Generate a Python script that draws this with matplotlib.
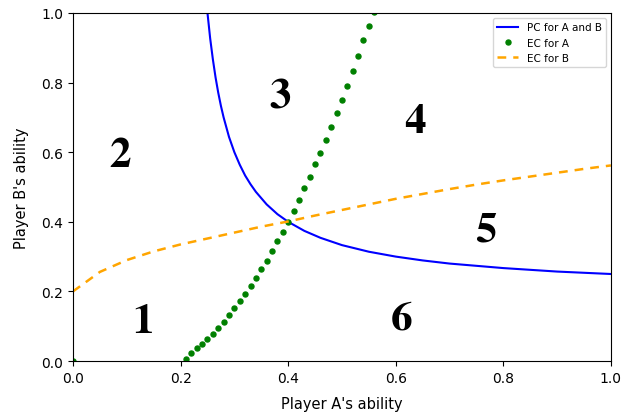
import matplotlib
matplotlib.use("Agg")
import matplotlib.pyplot as plt

plt.rcParams['mathtext.fontset'] = 'stix'

# PC for A and B (blue)
pc_x = [0.25, 0.255, 0.26, 0.265, 0.27, 0.275, 0.28, 0.29, 0.30, 0.31, 0.32, 0.33,
        0.34, 0.36, 0.38, 0.40, 0.43, 0.46, 0.50, 0.55, 0.60, 0.65, 0.70, 0.80, 0.90, 1.00]
pc_y = [1.000, 0.927, 0.867, 0.815, 0.771, 0.733, 0.700, 0.644, 0.600, 0.564, 0.533, 0.508,
        0.486, 0.450, 0.422, 0.400, 0.374, 0.354, 0.333, 0.314, 0.300, 0.289, 0.280, 0.267, 0.257, 0.250]

# EC for A (green dots)
eca_x = [0.00, 0.21, 0.22, 0.23, 0.24, 0.25, 0.26, 0.27, 0.28, 0.29, 0.30, 0.31, 0.32,
         0.33, 0.34, 0.35, 0.36, 0.37, 0.38, 0.39, 0.40, 0.41, 0.42, 0.43, 0.44, 0.45,
         0.46, 0.47, 0.48, 0.49, 0.50, 0.51, 0.52, 0.53, 0.54, 0.55, 0.56]
eca_y = [0.000, 0.005, 0.023, 0.036, 0.050, 0.063, 0.077, 0.095, 0.113, 0.132, 0.151, 0.171, 0.192,
         0.215, 0.238, 0.263, 0.288, 0.317, 0.344, 0.372, 0.400, 0.432, 0.464, 0.497, 0.530, 0.566,
         0.598, 0.636, 0.673, 0.713, 0.751, 0.791, 0.834, 0.876, 0.921, 0.964, 1.004]

# EC for B (orange dashed)
ecb_x = [0.00, 0.05, 0.10, 0.15, 0.20, 0.25, 0.30, 0.35, 0.40, 0.45, 0.50,
         0.55, 0.60, 0.65, 0.70, 0.75, 0.80, 0.85, 0.90, 0.95, 1.00]
ecb_y = [0.200, 0.256, 0.290, 0.315, 0.335, 0.352, 0.369, 0.386, 0.401, 0.418, 0.434,
         0.450, 0.466, 0.480, 0.494, 0.507, 0.519, 0.530, 0.541, 0.552, 0.562]

# Region labels
region_labels = ['1', '2', '3', '4', '5', '6']
region_x = [0.130, 0.087, 0.385, 0.636, 0.768, 0.610]
region_y = [0.118, 0.595, 0.767, 0.693, 0.382, 0.129]

fig = plt.figure(figsize=(6.24, 4.14), dpi=100)
ax = fig.add_axes([0.117, 0.1256, 0.862, 0.8406])

ax.plot(pc_x, pc_y, color='blue', lw=1.5, label='PC for A and B')
ax.plot(eca_x, eca_y, linestyle='none', marker='o', ms=3.6, color='green', label='EC for A')
ax.plot(ecb_x, ecb_y, linestyle='--', color='orange', lw=1.8, dashes=(3.5, 2.8), label='EC for B')

for lab, x, y in zip(region_labels, region_x, region_y):
    ax.text(x, y, r'$\mathbf{%s}$' % lab, fontsize=31, ha='center', va='center')

ax.set_xlim(0, 1)
ax.set_ylim(0, 1)
ax.set_xlabel("Player A's ability", fontsize=10.5, labelpad=8)
ax.set_ylabel("Player B's ability", fontsize=10.5, labelpad=9)
ax.tick_params(labelsize=10)
ax.legend(loc='upper right', fontsize=7.5)

fig.savefig('out.png', dpi=100)
